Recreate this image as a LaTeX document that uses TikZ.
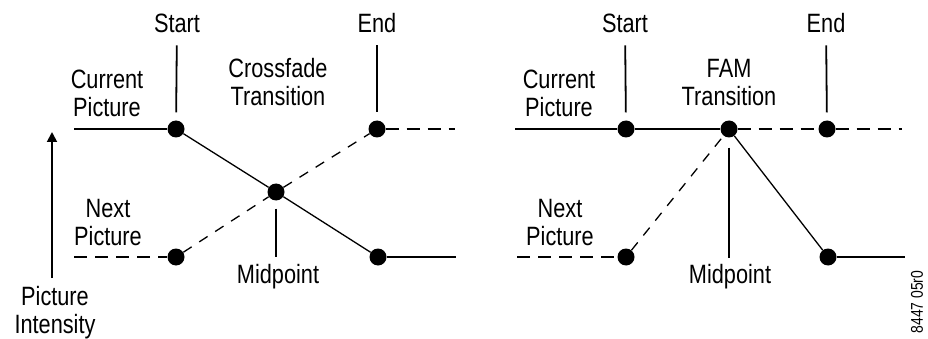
\documentclass[tikz,border=0pt]{standalone}
\usepackage{fontspec}
\setmainfont{Liberation Sans}[FakeStretch=0.82]
\usetikzlibrary{arrows.meta}

\begin{document}
\begin{tikzpicture}[x=1pt, y=-1pt,
    dot/.style={circle, fill=black, inner sep=0pt, minimum size=17pt},
    lbl/.style={inner sep=0pt, align=center, anchor=base, font=\fontsize{26.5}{28}\selectfont},
    solidline/.style={line width=1.8pt},
    dashline/.style={line width=1.8pt, dash pattern=on 13pt off 8pt},
    slant/.style={line width=1.3pt},
    slantdash/.style={line width=1.3pt, dash pattern=on 10pt off 9pt},
    tick/.style={line width=1.8pt, shorten <=12pt, shorten >=8pt}]
    \useasboundingbox (0,0) rectangle (928,339);

    % 1. Define Points (left: crossfade)
    \node[dot] (S1) at (176,129) {}; % Start
    \node[dot] (E1) at (377,129) {}; % End
    \node[dot] (M1) at (276,192) {}; % Midpoint
    \node[dot] (N1) at (176,257) {}; % Next picture in
    \node[dot] (F1) at (378,257) {}; % Current picture out
    \coordinate (cIn1) at (74,129);
    \coordinate (cOut1) at (455,129);
    \coordinate (nIn1) at (74,257);
    \coordinate (nOut1) at (456,257);

    % (right: FAM)
    \node[dot] (S2) at (626,129) {};
    \node[dot] (E2) at (827,129) {};
    \node[dot] (M2) at (729,129) {};
    \node[dot] (N2) at (626,257) {};
    \node[dot] (F2) at (828,257) {};
    \coordinate (cIn2) at (515,129);
    \coordinate (cOut2) at (902,129);
    \coordinate (nIn2) at (517,257);
    \coordinate (nOut2) at (905,257);

    % 2. Labels (base = last line)
    \node[lbl] (lS1) at (177,33) {Start};
    \node[lbl] (lE1) at (377,33) {End};
    \node[lbl] (lCur1) at (107,117) {Current\\Picture};
    \node[lbl] (lX1) at (278,106) {Crossfade\\Transition};
    \node[lbl] (lNext1) at (108,245) {Next\\Picture};
    \node[lbl] (lM1) at (278,283) {Midpoint};
    \node[lbl] (lPI) at (55,333) {Picture\\Intensity};

    \node[lbl] (lS2) at (625,33) {Start};
    \node[lbl] (lE2) at (826,33) {End};
    \node[lbl] (lCur2) at (559,117) {Current\\Picture};
    \node[lbl] (lX2) at (729,106) {FAM\\Transition};
    \node[lbl] (lNext2) at (560,245) {Next\\Picture};
    \node[lbl] (lM2) at (730,283) {Midpoint};

    \node[rotate=90, inner sep=0pt, font=\fontsize{17}{18}\selectfont] (fig) at (917,302) {8447 05r0};

    % 3. Draw the Edges (left)
    \draw[solidline] (cIn1) -- (S1);
    \draw[slant] (S1) -- (M1) -- (F1);
    \draw[solidline] (F1) -- (nOut1);
    \draw[dashline] (nIn1) -- (N1);
    \draw[slantdash] (N1) -- (M1) -- (E1);
    \draw[dashline] (E1) -- (cOut1);
    \draw[tick] (lS1) -- (S1);
    \draw[tick] (lE1) -- (E1);
    \draw[line width=1.8pt, shorten <=8pt, shorten >=7pt] (M1) -- (M1 |- lM1.north);

    % intensity axis
    \coordinate (ax) at (52,278);
    \draw[line width=1.8pt, -{Triangle[length=10pt,width=10pt]}] (ax) -- (52,132);

    % (right)
    \draw[solidline] (cIn2) -- (S2) -- (M2);
    \draw[dashline] (M2) -- (E2) -- (cOut2);
    \draw[dashline] (nIn2) -- (N2);
    \draw[slantdash] (N2) -- (M2);
    \draw[slant] (M2) -- (F2);
    \draw[solidline] (F2) -- (nOut2);
    \draw[tick] (lS2) -- (S2);
    \draw[tick] (lE2) -- (E2);
    \draw[line width=1.8pt, shorten <=10pt, shorten >=6pt] (M2) -- (M2 |- lM2.north);
\end{tikzpicture}
\end{document}
